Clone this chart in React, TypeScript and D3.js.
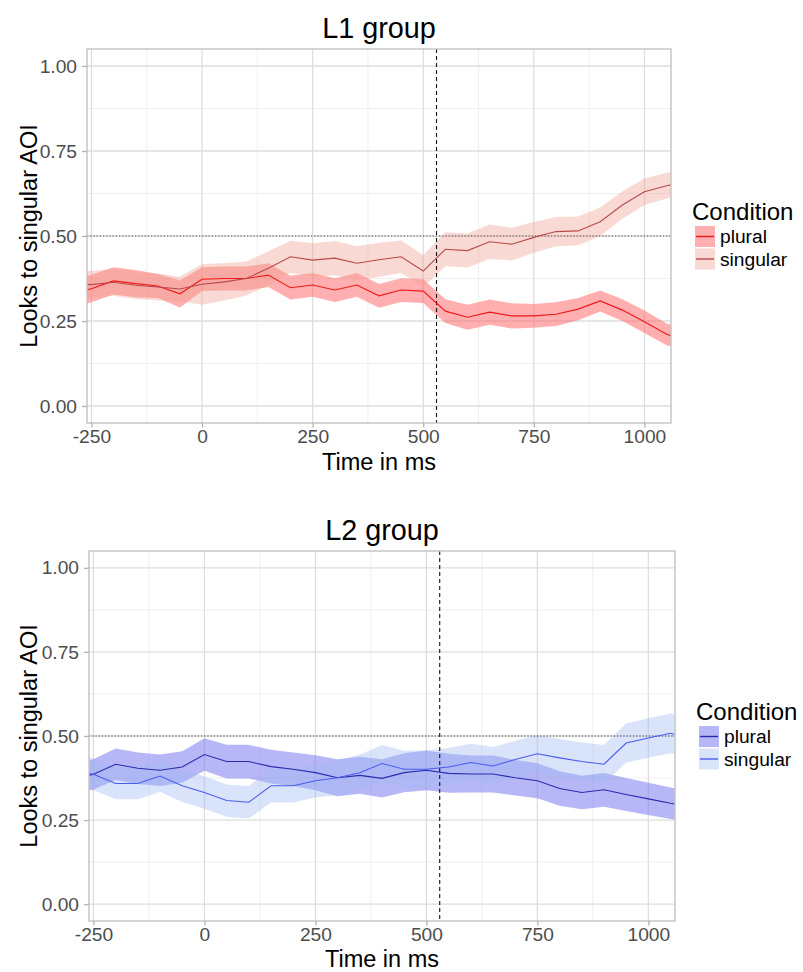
import React, { useEffect, useRef } from "react";
import * as d3 from "d3";

// time bins (ms); first and last bins fall just outside the visible window
const times = [-300, -250, -200, -150, -100, -50, 0, 50, 100, 150, 200, 250, 300, 350, 400,
  450, 500, 550, 600, 650, 700, 750, 800, 850, 900, 950, 1000, 1050, 1100];

const xTicks = [-250, 0, 250, 500, 750, 1000];
const xMinorTicks = [-125, 125, 375, 625, 875];
const yTicks = [0, 0.25, 0.5, 0.75, 1];
const yMinorTicks = [0.125, 0.375, 0.625, 0.875];

const conditions = ["plural", "singular"];
const chanceLevel = 0.5;
const onsetMs = 530;

// L1 group
const l1Plural = [0.33, 0.345, 0.368, 0.36, 0.353, 0.33, 0.373, 0.375, 0.375, 0.385, 0.348, 0.356, 0.341, 0.356, 0.324,
  0.341, 0.338, 0.279, 0.261, 0.276, 0.265, 0.265, 0.27, 0.285, 0.309, 0.282, 0.248, 0.211, 0.19];
const l1PluralCi = [0.04, 0.04, 0.04, 0.04, 0.035, 0.04, 0.035, 0.035, 0.035, 0.035, 0.035, 0.035, 0.035, 0.035, 0.035,
  0.035, 0.035, 0.035, 0.037, 0.037, 0.037, 0.035, 0.035, 0.033, 0.031, 0.032, 0.033, 0.032, 0.032];
const l1Singular = [0.36, 0.357, 0.364, 0.355, 0.35, 0.344, 0.358, 0.365, 0.375, 0.405, 0.439, 0.429, 0.435, 0.42, 0.43,
  0.439, 0.397, 0.461, 0.457, 0.483, 0.476, 0.496, 0.513, 0.515, 0.542, 0.591, 0.63, 0.648, 0.66];
const l1SingularCi = [0.04, 0.04, 0.04, 0.04, 0.04, 0.036, 0.06, 0.055, 0.05, 0.05, 0.047, 0.05, 0.05, 0.05, 0.05,
  0.048, 0.047, 0.05, 0.05, 0.051, 0.048, 0.045, 0.043, 0.042, 0.042, 0.04, 0.039, 0.038, 0.038];

// L2 group
const l2Plural = [0.37, 0.386, 0.416, 0.404, 0.398, 0.408, 0.445, 0.424, 0.424, 0.409, 0.401, 0.391, 0.376, 0.383, 0.374,
  0.391, 0.398, 0.389, 0.387, 0.387, 0.376, 0.367, 0.344, 0.332, 0.34, 0.326, 0.313, 0.3, 0.29];
const l2PluralCi = [0.045, 0.045, 0.047, 0.047, 0.047, 0.047, 0.048, 0.05, 0.05, 0.05, 0.05, 0.052, 0.055, 0.055, 0.057,
  0.058, 0.059, 0.058, 0.055, 0.055, 0.053, 0.052, 0.051, 0.05, 0.05, 0.049, 0.048, 0.047, 0.047];
const l2Singular = [0.4, 0.386, 0.359, 0.359, 0.381, 0.352, 0.332, 0.308, 0.303, 0.352, 0.352, 0.367, 0.376, 0.391, 0.418,
  0.401, 0.401, 0.408, 0.421, 0.411, 0.43, 0.447, 0.435, 0.424, 0.416, 0.479, 0.494, 0.508, 0.49];
const l2SingularCi = [0.047, 0.047, 0.047, 0.047, 0.047, 0.048, 0.048, 0.048, 0.048, 0.05, 0.05, 0.05, 0.052, 0.053, 0.055,
  0.055, 0.056, 0.056, 0.056, 0.056, 0.056, 0.056, 0.056, 0.057, 0.057, 0.058, 0.059, 0.059, 0.059];

const FONT = "'Liberation Sans', Arial, Helvetica, sans-serif";

interface Series {
  name: string;
  mean: number[];
  ci: number[];
  line: string;
  fill: string;
  fillOpacity: number;
}

interface Panel {
  id: string;
  title: string;
  box: { left: number; right: number; top: number; bottom: number };
  series: Series[];
}

const panels: Panel[] = [
  {
    id: "l1",
    title: "L1 group",
    box: { left: 87, right: 671, top: 49, bottom: 423 },
    series: [
      { name: conditions[0], mean: l1Plural, ci: l1PluralCi, line: "#f01818", fill: "#ff6060", fillOpacity: 0.5 },
      { name: conditions[1], mean: l1Singular, ci: l1SingularCi, line: "#b84a4a", fill: "#f0a090", fillOpacity: 0.4 },
    ],
  },
  {
    id: "l2",
    title: "L2 group",
    box: { left: 89, right: 675, top: 551, bottom: 921 },
    series: [
      { name: conditions[0], mean: l2Plural, ci: l2PluralCi, line: "#2a2ab0", fill: "#7070f0", fillOpacity: 0.5 },
      { name: conditions[1], mean: l2Singular, ci: l2SingularCi, line: "#4a5cf0", fill: "#a0b8f0", fillOpacity: 0.4 },
    ],
  },
];

function drawPanel(svg: d3.Selection<SVGSVGElement, unknown, null, undefined>, p: Panel) {
  const b = p.box;
  const x = d3.scaleLinear().domain([-260, 1060]).range([b.left, b.right]);
  const y = d3.scaleLinear().domain([-0.05, 1.05]).range([b.bottom, b.top]);
  const g = svg.append("g");

  // grid
  g.selectAll(".vminor").data(xMinorTicks).enter().append("line")
    .attr("x1", d => x(d)).attr("x2", d => x(d)).attr("y1", b.top).attr("y2", b.bottom)
    .attr("stroke", "#ebebeb").attr("stroke-width", 0.8);
  g.selectAll(".hminor").data(yMinorTicks).enter().append("line")
    .attr("x1", b.left).attr("x2", b.right).attr("y1", d => y(d)).attr("y2", d => y(d))
    .attr("stroke", "#ebebeb").attr("stroke-width", 0.8);
  g.selectAll(".vmajor").data(xTicks).enter().append("line")
    .attr("x1", d => x(d)).attr("x2", d => x(d)).attr("y1", b.top).attr("y2", b.bottom)
    .attr("stroke", "#dedede").attr("stroke-width", 1.3);
  g.selectAll(".hmajor").data(yTicks).enter().append("line")
    .attr("x1", b.left).attr("x2", b.right).attr("y1", d => y(d)).attr("y2", d => y(d))
    .attr("stroke", "#dedede").attr("stroke-width", 1.3);

  // clip to panel
  const clipId = `clip-${p.id}`;
  svg.append("defs").append("clipPath").attr("id", clipId)
    .append("rect").attr("x", b.left).attr("y", b.top)
    .attr("width", b.right - b.left).attr("height", b.bottom - b.top);
  const plot = g.append("g").attr("clip-path", `url(#${clipId})`);

  // ribbons
  p.series.forEach(s => {
    const area = d3.area<number>()
      .x((_, i) => x(times[i]))
      .y0((d, i) => y(d - s.ci[i]))
      .y1((d, i) => y(d + s.ci[i]));
    plot.append("path").datum(s.mean)
      .attr("d", area)
      .attr("fill", s.fill)
      .attr("fill-opacity", s.fillOpacity);
  });

  // reference lines
  plot.append("line")
    .attr("x1", b.left).attr("x2", b.right)
    .attr("y1", y(chanceLevel)).attr("y2", y(chanceLevel))
    .attr("stroke", "#444").attr("stroke-width", 1.1).attr("stroke-dasharray", "1.2,2");
  plot.append("line")
    .attr("x1", x(onsetMs)).attr("x2", x(onsetMs))
    .attr("y1", b.top).attr("y2", b.bottom)
    .attr("stroke", "#111").attr("stroke-width", 1.1).attr("stroke-dasharray", "4,3");

  // mean lines
  p.series.forEach(s => {
    const line = d3.line<number>().x((_, i) => x(times[i])).y(d => y(d));
    plot.append("path").datum(s.mean)
      .attr("d", line)
      .attr("fill", "none")
      .attr("stroke", s.line)
      .attr("stroke-width", 1.1);
  });

  // border
  g.append("rect")
    .attr("x", b.left).attr("y", b.top)
    .attr("width", b.right - b.left).attr("height", b.bottom - b.top)
    .attr("fill", "none").attr("stroke", "#c2c2c2").attr("stroke-width", 1.4);

  // axes
  const xAxis = g.append("g")
    .attr("transform", `translate(0,${b.bottom})`)
    .call(d3.axisBottom(x).tickValues(xTicks).tickSize(4.5).tickPadding(2).tickFormat(d => String(d)));
  const yAxis = g.append("g")
    .attr("transform", `translate(${b.left},0)`)
    .call(d3.axisLeft(y).tickValues(yTicks).tickSize(5).tickPadding(5).tickFormat(d => (+d).toFixed(2)));
  [xAxis, yAxis].forEach(a => {
    a.select(".domain").remove();
    a.selectAll("line").attr("stroke", "#b3b3b3").attr("stroke-width", 1.3);
    a.selectAll("text").attr("fill", "#4d4d4d").style("font-size", "19.2px").style("font-family", FONT);
  });

  // titles
  const cx = (b.left + b.right) / 2;
  g.append("text").attr("x", cx).attr("y", b.top - 11)
    .attr("text-anchor", "middle").style("font-size", "28.8px").style("font-family", FONT)
    .attr("fill", "#000").text(p.title);
  g.append("text").attr("x", cx).attr("y", Math.min(b.bottom + 47, 967))
    .attr("text-anchor", "middle").style("font-size", "23.5px").style("font-family", FONT)
    .attr("fill", "#000").text("Time in ms");
  g.append("text")
    .attr("transform", `translate(37,${(b.top + b.bottom) / 2}) rotate(-90)`)
    .attr("text-anchor", "middle").style("font-size", "23.5px").style("font-family", FONT)
    .attr("fill", "#000").text("Looks to singular AOI");

  // legend
  const lx = b.right + 24;
  const midY = (b.top + b.bottom) / 2;
  const keyW = 20;
  const keyH = 21;
  const keyTop = midY - 10;
  g.append("text").attr("x", lx - 3).attr("y", keyTop - 6)
    .style("font-size", "24px").style("font-family", FONT).attr("fill", "#000").text("Condition");
  p.series.forEach((s, i) => {
    const ky = keyTop + i * (keyH + 1.5);
    g.append("rect").attr("x", lx).attr("y", ky).attr("width", keyW).attr("height", keyH)
      .attr("fill", s.fill).attr("fill-opacity", s.fillOpacity);
    g.append("line").attr("x1", lx + 1).attr("x2", lx + keyW - 1)
      .attr("y1", ky + keyH / 2).attr("y2", ky + keyH / 2)
      .attr("stroke", s.line).attr("stroke-width", 1.4);
    g.append("text").attr("x", lx + keyW + 5).attr("y", ky + keyH / 2)
      .attr("dominant-baseline", "central")
      .style("font-size", "19.2px").style("font-family", FONT).attr("fill", "#000").text(s.name);
  });
}

export default function App() {
  const svgRef = useRef<SVGSVGElement>(null);

  useEffect(() => {
    if (!svgRef.current) return;
    const svg = d3.select(svgRef.current);
    svg.selectAll("*").remove();
    panels.forEach(p => drawPanel(svg, p));
  }, []);

  return (
    <svg
      ref={svgRef}
      width={803}
      height={972}
      style={{ position: "absolute", left: 0, top: 0, background: "#fff" }}
    />
  );
}
